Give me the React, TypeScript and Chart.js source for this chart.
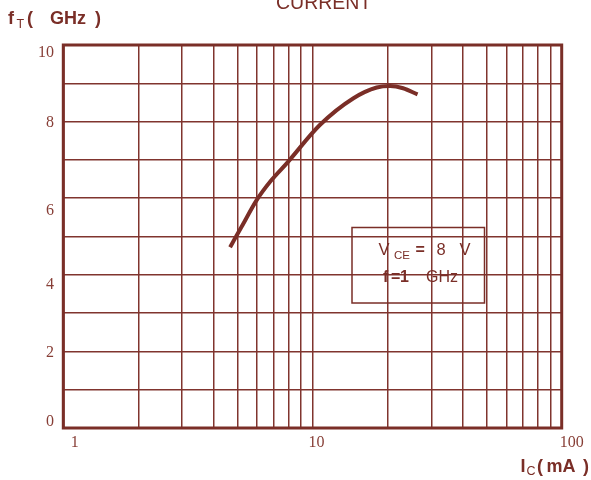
import React, { useEffect, useRef } from "react";
import { Chart, registerables } from "chart.js";

Chart.register(...registerables);

// Collector current (mA) and transition frequency fT (GHz)
const IC_MA = [4.67, 5.2, 5.97, 6.86, 7.88, 10.7, 14.6, 18.1, 20.5, 23.1, 26.4];
const FT_GHZ = [4.72, 5.26, 5.95, 6.48, 6.91, 7.91, 8.61, 8.89, 8.93, 8.87, 8.71];

// Axis ticks / grid
const X_GRID = [1, 2, 3, 4, 5, 6, 7, 8, 9, 10, 20, 30, 40, 50, 60, 70, 80, 90, 100];
const X_LABELS = [1, 10, 100];
const Y_LABELS = [0, 2, 4, 6, 8, 10];

const INK = "rgb(122,46,39)";
const GRID = "rgb(128,52,46)";
const LABEL = "rgb(135,62,54)";

// small per-label nudges to mimic the original artwork
const X_LABEL_NUDGE: Record<number, number> = { 1: 11.5, 10: 4, 100: 10 };
const Y_LABEL_NUDGE: Record<number, number> = { 0: -6, 2: 1, 4: 9.5, 6: 13, 8: 1, 10: 7.5 };

const decor = {
  id: "decor",
  afterDraw(chart: any) {
    const { ctx, chartArea: a, scales } = chart;
    ctx.save();
    // frame
    ctx.strokeStyle = INK;
    ctx.lineWidth = 3;
    ctx.strokeRect(a.left, a.top, a.right - a.left, a.bottom - a.top);

    const txt = (s: string, x: number, y: number, font: string, color = INK, align: CanvasTextAlign = "left", base: CanvasTextBaseline = "alphabetic") => {
      ctx.font = font;
      ctx.fillStyle = color;
      ctx.textAlign = align;
      ctx.textBaseline = base;
      ctx.fillText(s, x, y);
    };

    // tick labels
    const serif = '16px "Liberation Serif"';
    for (const v of X_LABELS) {
      const x = scales.x.getPixelForValue(v) + (X_LABEL_NUDGE[v] || 0);
      txt(String(v), x, 443, serif, LABEL, "center", "middle");
    }
    for (const v of Y_LABELS) {
      const y = scales.y.getPixelForValue(v) + (Y_LABEL_NUDGE[v] || 0);
      txt(String(v), 54, y, serif, LABEL, "right", "middle");
    }

    // title (cut at the top edge)
    txt("CURRENT", 276, 8.5, '19.5px "Liberation Sans"');

    // y axis title
    txt("f", 8, 24, 'bold 18px "Liberation Sans"');
    txt("T", 16.5, 27.5, '12.5px "Liberation Sans"');
    txt("(", 27, 24, 'bold 18px "Liberation Sans"');
    txt("GHz", 50, 24, 'bold 18px "Liberation Sans"');
    txt(")", 95, 24, 'bold 18px "Liberation Sans"');

    // x axis title
    txt("I", 520.5, 471.5, 'bold 18px "Liberation Sans"');
    txt("C", 526.5, 474.5, '12.5px "Liberation Sans"');
    txt("(", 537, 471.5, 'bold 18px "Liberation Sans"');
    txt("mA", 546.5, 471.5, 'bold 18px "Liberation Sans"');
    txt(")", 583, 471.5, 'bold 18px "Liberation Sans"');

    // condition box
    ctx.strokeStyle = INK;
    ctx.lineWidth = 1.5;
    ctx.strokeRect(352, 227.5, 132.5, 75.5);
    txt("V", 378.5, 255, '16.5px "Liberation Sans"');
    txt("CE", 394, 258.5, '11.5px "Liberation Sans"');
    txt("=", 415.5, 255, 'bold 16px "Liberation Sans"');
    txt("8", 436.5, 255, '16.5px "Liberation Sans"');
    txt("V", 459.5, 255, '16.5px "Liberation Sans"');
    txt("f", 383, 281.5, 'bold 16px "Liberation Sans"');
    txt("=", 391, 281.5, 'bold 16px "Liberation Sans"');
    txt("1", 400, 281.5, 'bold 16px "Liberation Sans"');
    txt("GHz", 426, 281.5, '16px "Liberation Sans"');
    ctx.restore();
  },
};

export default function App() {
  const ref = useRef<HTMLCanvasElement>(null);
  useEffect(() => {
    if (!ref.current) return;
    const chart = new Chart(ref.current, {
      type: "line",
      data: {
        datasets: [
          {
            data: IC_MA.map((x, i) => ({ x, y: FT_GHZ[i] })),
            borderColor: INK,
            borderWidth: 4,
            pointRadius: 0,
            cubicInterpolationMode: "monotone",
            fill: false,
          },
        ],
      },
      options: {
        animation: false,
        responsive: false,
        devicePixelRatio: 1,
        layout: { padding: { top: 45, right: 29.3, bottom: 0, left: 0 } },
        plugins: { legend: { display: false }, tooltip: { enabled: false }, title: { display: false } },
        scales: {
          x: {
            type: "logarithmic",
            min: 1,
            max: 100,
            afterBuildTicks: (s: any) => {
              s.ticks = X_GRID.map((v) => ({ value: v }));
            },
            afterFit: (s: any) => {
              s.height = 52;
            },
            ticks: { display: false, autoSkip: false },
            grid: { color: GRID, lineWidth: 1.5, drawTicks: false },
            border: { display: false },
          },
          y: {
            type: "linear",
            min: 0,
            max: 10,
            ticks: { display: false, stepSize: 1 },
            afterFit: (s: any) => {
              s.width = 63.3;
            },
            grid: { color: GRID, lineWidth: 1.5, drawTicks: false },
            border: { display: false },
          },
        },
      },
      plugins: [decor],
    } as any);
    return () => chart.destroy();
  }, []);
  return (
    <canvas
      ref={ref}
      width={591}
      height={480}
      style={{ position: "absolute", left: 0, top: 0, width: 591, height: 480, background: "#fff" }}
    />
  );
}
